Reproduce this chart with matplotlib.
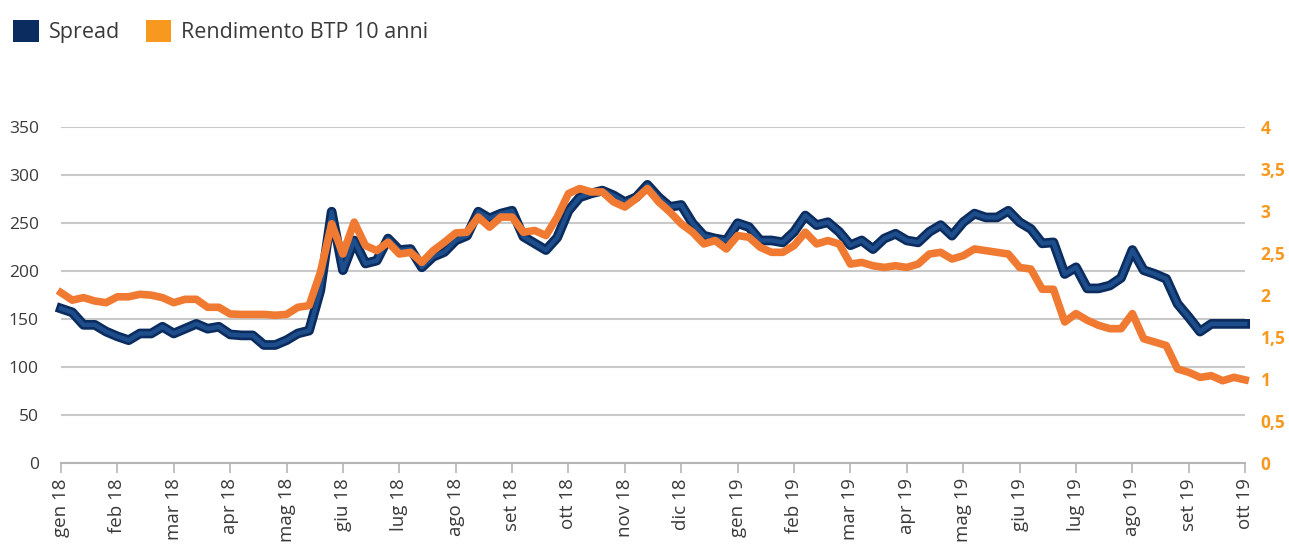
import numpy as np
import matplotlib
matplotlib.use("Agg")
from matplotlib import pyplot as plt
from matplotlib.patches import Patch
import matplotlib.patheffects as pe

plt.rcParams['font.family'] = ['Open Sans', 'DejaVu Sans']

months = ["gen 18", "feb 18", "mar 18", "apr 18", "mag 18", "giu 18", "lug 18",
          "ago 18", "set 18", "ott 18", "nov 18", "dic 18", "gen 19", "feb 19",
          "mar 19", "apr 19", "mag 19", "giu 19", "lug 19", "ago 19", "set 19",
          "ott 19"]

# spread (bp), read at ~5 points per month
spread = [161, 157, 144, 144, 137, 132, 128, 135, 135, 142,
          135, 140, 145, 140, 142, 134, 133, 133, 123, 123,
          128, 135, 138, 180, 262, 201, 232, 208, 211, 234,
          222, 223, 204, 215, 220, 232, 237, 262, 255, 260,
          263, 236, 229, 222, 235, 263, 277, 281, 284, 279,
          272, 277, 290, 277, 267, 269, 250, 237, 234, 232,
          250, 246, 232, 232, 230, 241, 258, 248, 251, 241,
          227, 232, 223, 234, 239, 232, 230, 241, 248, 237,
          251, 260, 256, 256, 263, 251, 244, 229, 230, 197,
          204, 182, 182, 185, 193, 222, 201, 197, 192, 166,
          152, 137, 145, 145, 145, 145]

# rendimento BTP 10 anni (%)
btp = [2.03, 1.94, 1.97, 1.93, 1.91, 1.98, 1.98, 2.01, 2.00, 1.97,
       1.91, 1.95, 1.95, 1.855, 1.855, 1.775, 1.77, 1.77, 1.77, 1.76,
       1.77, 1.855, 1.875, 2.27, 2.85, 2.49, 2.87, 2.59, 2.53, 2.63,
       2.49, 2.51, 2.39, 2.53, 2.63, 2.74, 2.75, 2.93, 2.81, 2.93,
       2.93, 2.75, 2.77, 2.71, 2.93, 3.21, 3.27, 3.23, 3.23, 3.11,
       3.05, 3.15, 3.27, 3.11, 2.99, 2.85, 2.75, 2.61, 2.65, 2.55,
       2.71, 2.69, 2.57, 2.51, 2.51, 2.59, 2.75, 2.61, 2.65, 2.61,
       2.37, 2.39, 2.35, 2.33, 2.35, 2.33, 2.37, 2.49, 2.51, 2.43,
       2.47, 2.55, 2.53, 2.51, 2.49, 2.33, 2.31, 2.07, 2.07, 1.68,
       1.78, 1.70, 1.64, 1.60, 1.60, 1.78, 1.48, 1.44, 1.40, 1.12,
       1.08, 1.02, 1.04, 0.98, 1.02, 0.99]

left_ticks = [0, 50, 100, 150, 200, 250, 300, 350]
right_ticks = [0, 0.5, 1, 1.5, 2, 2.5, 3, 3.5, 4]
right_labels = ["0", "0,5", "1", "1,5", "2", "2,5", "3", "3,5", "4"]

navy = "#0b2c5f"
navy_in = "#1d4d8a"
orange_line = "#f07a32"
orange_leg = "#f7981f"
grid_col = "#c9c9c9"
text_col = "#3a3a3a"

x = np.arange(len(spread)) / 5.0

fig = plt.figure(figsize=(12.89, 5.44), dpi=100)
ax = fig.add_axes([0.0473, 0.149, 0.9187, 0.617])
ax2 = ax.twinx()

ax.plot(x, spread, color=navy_in, lw=3.2, solid_joinstyle='round', zorder=3, clip_on=False,
        path_effects=[pe.Stroke(linewidth=7.0, foreground=navy), pe.Normal()])
ax2.plot(x, btp, color=orange_line, lw=5.5, solid_joinstyle='round', zorder=3, clip_on=False)

ax.set_xlim(0, len(months) - 1)
ax.set_ylim(0, 350)
ax2.set_ylim(0, 4)

ax.set_yticks(left_ticks)
ax.set_yticklabels([str(t) for t in left_ticks])
ax2.set_yticks(right_ticks)
ax2.set_yticklabels(right_labels)

ax.set_xticks(range(len(months)))
ax.set_xticklabels(months, rotation=90, va='top', ha='center')

ax.grid(axis='y', color=grid_col, lw=1.5)
ax.set_axisbelow(True)

for a in (ax, ax2):
    for s in ['top', 'right', 'left']:
        a.spines[s].set_visible(False)
ax2.spines['bottom'].set_visible(False)
ax.spines['bottom'].set_color("#b5b5b5")
ax.spines['bottom'].set_linewidth(1.5)

ax.tick_params(axis='y', length=0, pad=16, labelsize=12.5, labelcolor=text_col)
ax.tick_params(axis='x', length=7, width=1.2, color="#b5b5b5", pad=4, labelsize=13.5,
               labelcolor=text_col)
ax2.tick_params(axis='y', length=0, pad=11, labelsize=12.5, labelcolor=orange_leg)
for lab in ax2.get_yticklabels():
    lab.set_fontweight('bold')

handles = [Patch(facecolor=navy, edgecolor='none', label="Spread"),
           Patch(facecolor=orange_leg, edgecolor='none', label="Rendimento BTP 10 anni")]
leg = fig.legend(handles=handles, loc='upper left', bbox_to_anchor=(0.0, 0.987), ncol=2,
                 frameon=False, fontsize=15.5, handlelength=1.2, handleheight=1.2,
                 handletextpad=0.45, columnspacing=1.2, borderaxespad=0.2)
for t in leg.get_texts():
    t.set_color(text_col)
    t.set_fontweight('medium')

fig.savefig("out.png", dpi=100)
